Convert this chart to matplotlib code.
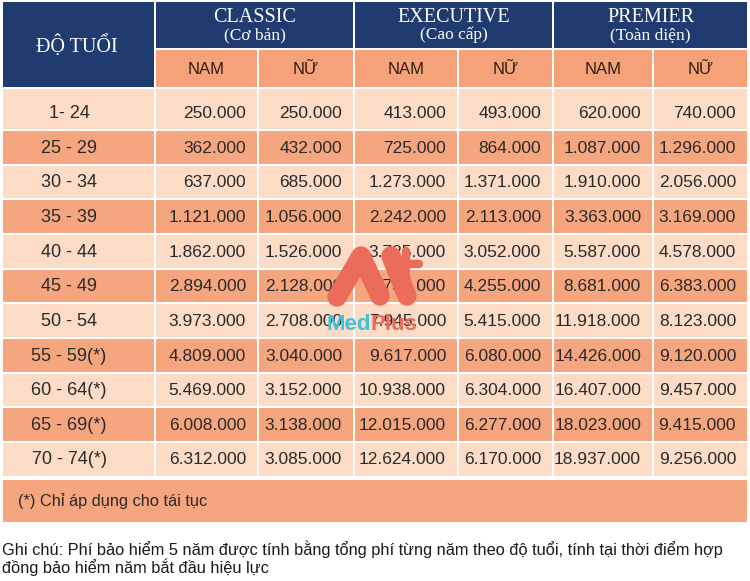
import matplotlib
matplotlib.use("Agg")
import matplotlib.pyplot as plt
from matplotlib.patches import Rectangle

# ---------------- data ----------------
age_groups = ["1- 24", "25 - 29", "30 - 34", "35 - 39", "40 - 44", "45 - 49",
              "50 - 54", "55 - 59(*)", "60 - 64(*)", "65 - 69(*)", "70 - 74(*)"]
age_header = "ĐỘ TUỔI"
plans = ["CLASSIC", "EXECUTIVE", "PREMIER"]
plan_subtitles = ["(Cơ bản)", "(Cao cấp)", "(Toàn diện)"]
genders = ["NAM", "NỮ"]

classic_nam = [250000, 362000, 637000, 1121000, 1862000, 2894000, 3973000,
               4809000, 5469000, 6008000, 6312000]
classic_nu = [250000, 432000, 685000, 1056000, 1526000, 2128000, 2708000,
              3040000, 3152000, 3138000, 3085000]
executive_nam = [413000, 725000, 1273000, 2242000, 3725000, 5787000, 7945000,
                 9617000, 10938000, 12015000, 12624000]
executive_nu = [493000, 864000, 1371000, 2113000, 3052000, 4255000, 5415000,
                6080000, 6304000, 6277000, 6170000]
premier_nam = [620000, 1087000, 1910000, 3363000, 5587000, 8681000, 11918000,
               14426000, 16407000, 18023000, 18937000]
premier_nu = [740000, 1296000, 2056000, 3169000, 4578000, 6383000, 8123000,
              9120000, 9457000, 9415000, 9256000]

footnote = "(*) Chỉ áp dụng cho tái tục"
note_lines = ["Ghi chú: Phí bảo hiểm 5 năm được tính bằng tổng phí từng năm theo độ tuổi, tính tại thời điểm hợp",
              "đồng bảo hiểm năm bắt đầu hiệu lực"]
logo_text = ["Med", "Plus"]

# ---------------- style / layout ----------------
NAVY = "#1f3b70"
SUB = "#f6a278"
LIGHT = "#fcdcc6"
DARK = "#f6a67e"
TXT = "#2a2a2a"
SANS = ["Liberation Sans", "DejaVu Sans"]
SERIF = ["Liberation Serif", "DejaVu Serif"]
BODY_FS = 12.5

W, H = 750, 581
fig = plt.figure(figsize=(W / 100, H / 100), dpi=100)
ax = fig.add_axes([0, 0, 1, 1])
ax.set_xlim(0, W)
ax.set_ylim(H, 0)
ax.axis("off")

col_edges = [2, 155, 258, 354, 458, 553, 653, 748]
gap = 1.0

def cell(x0, x1, y0, y1, color):
    ax.add_patch(Rectangle((x0 + gap, y0 + gap), (x1 - x0) - 2 * gap,
                           (y1 - y0) - 2 * gap, facecolor=color,
                           edgecolor="none", zorder=1))

def fmt(v):
    return f"{v:,}".replace(",", ".")

# header
hdr_top, hdr_mid, hdr_bot = 1, 49, 88
cell(col_edges[0], col_edges[1], hdr_top, hdr_bot, NAVY)
ax.text(77, 47, age_header, family=SERIF, fontsize=14.5,
        color="white", ha="center", va="center", zorder=3)
for i, (p, s) in enumerate(zip(plans, plan_subtitles)):
    x0, x1 = col_edges[1 + 2 * i], col_edges[3 + 2 * i]
    cell(x0, x1, hdr_top, hdr_mid, NAVY)
    ax.text((x0 + x1) / 2, 17, p, family=SERIF, fontsize=14.5, color="white",
            ha="center", va="center", zorder=3)
    ax.text((x0 + x1) / 2, 35, s, family=SERIF, fontsize=12.5, color="white",
            ha="center", va="center", zorder=3)
    for j, g in enumerate(genders):
        gx0, gx1 = col_edges[1 + 2 * i + j], col_edges[2 + 2 * i + j]
        cell(gx0, gx1, hdr_mid, hdr_bot, SUB)
        ax.text((gx0 + gx1) / 2, 70, g, family=SANS, fontsize=12,
                color="#2e1d14", ha="center", va="center", zorder=3)

# body rows
series = [classic_nam, classic_nu, executive_nam, executive_nu, premier_nam, premier_nu]
row_tops = [88] + [130 + k * 34.65 for k in range(len(age_groups) - 1)]
row_bots = [130] + [130 + (k + 1) * 34.65 for k in range(len(age_groups) - 1)]
for r, age in enumerate(age_groups):
    y0, y1 = row_tops[r], row_bots[r]
    color = LIGHT if r % 2 == 0 else DARK
    yc = (y0 + y1) / 2 + 0.8 if r > 0 else 113
    for c in range(len(col_edges) - 1):
        cell(col_edges[c], col_edges[c + 1], y0, y1, color)
    ax.text(69, yc, age, family=SANS, fontsize=13, color=TXT,
            ha="center", va="center", zorder=3)
    for c, vals in enumerate(series):
        ax.text(col_edges[c + 2] - 12, yc, fmt(vals[r]), family=SANS,
                fontsize=BODY_FS, color=TXT, ha="right", va="center", zorder=3)

# footnote row
fy0, fy1 = row_bots[-1] + 2, row_bots[-1] + 46
cell(col_edges[0], col_edges[-1], fy0, fy1, DARK)
ax.text(18, (fy0 + fy1) / 2 + 0.5, footnote, family=SANS, fontsize=11.8,
        color=TXT, ha="left", va="center", zorder=3)

# note text
ax.text(2, 549, note_lines[0], family=SANS, fontsize=11.8, color="#1a1a1a",
        ha="left", va="center", zorder=3)
ax.text(2, 567, note_lines[1], family=SANS, fontsize=11.8, color="#1a1a1a",
        ha="left", va="center", zorder=3)

# watermark logo
LOGO = "#ec6c5b"
ax.plot([337, 361, 380], [297, 256, 296], color=LOGO, lw=14,
        solid_capstyle="round", solid_joinstyle="round", zorder=5)
ax.plot([391, 407], [256, 296], color=LOGO, lw=14, solid_capstyle="round", zorder=5)
ax.plot([393, 419], [264, 264], color=LOGO, lw=6, solid_capstyle="round", zorder=6)
ax.plot([406, 406], [251, 277], color=LOGO, lw=6, solid_capstyle="round", zorder=6)
t1 = ax.text(326, 324, logo_text[0], family=SANS, fontsize=16, weight="bold",
             color="#3fc3dc", ha="left", va="center", zorder=6)
fig.canvas.draw()
bb = t1.get_window_extent()
x_end = ax.transData.inverted().transform((bb.x1, bb.y0))[0]
ax.text(x_end, 324, logo_text[1], family=SANS, fontsize=16, weight="bold",
        color=LOGO, ha="left", va="center", zorder=6)

fig.savefig("out.png", dpi=100, facecolor="white")
